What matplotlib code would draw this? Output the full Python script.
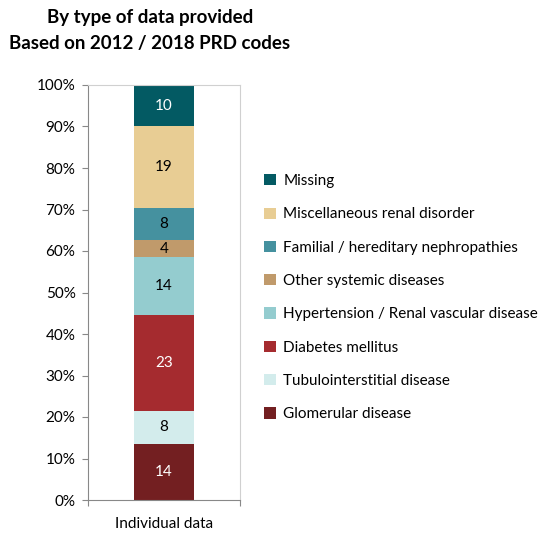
import matplotlib
matplotlib.use('Agg')
import matplotlib.pyplot as plt
from matplotlib.patches import Patch

plt.rcParams['font.family'] = ['Lato', 'DejaVu Sans']

# 데이터 (아래에서 위로)
categories = ['Glomerular disease', 'Tubulointerstitial disease', 'Diabetes mellitus',
              'Hypertension / Renal vascular disease', 'Other systemic diseases',
              'Familial / hereditary nephropathies', 'Miscellaneous renal disorder', 'Missing']
shares = [13.5, 8.0, 23.1, 14.0, 4.0, 7.8, 19.6, 10.0]
labels = ['14', '8', '23', '14', '4', '8', '19', '10']
colors = ['#731f21', '#d3ecec', '#a52b2f', '#94cccf', '#c09a6b', '#45919f', '#e8cd94', '#035a63']
text_colors = ['white', 'black', 'white', 'black', 'black', 'black', 'black', 'white']
group = 'Individual data'

fig = plt.figure(figsize=(5.45, 5.39), dpi=100)
ax = fig.add_axes([88 / 545, 1 - 500 / 539, 152 / 545, 415 / 539])

bottom = 0
for v, c, lab, tc in zip(shares, colors, labels, text_colors):
    ax.bar(0, v, width=0.4, bottom=bottom, color=c)
    ax.text(0, bottom + v / 2, lab, ha='center', va='center', color=tc, fontsize=11)
    bottom += v

ax.set_xlim(-0.5, 0.5)
ax.set_ylim(0, 100)
ax.set_yticks(range(0, 101, 10))
ax.set_yticklabels([f'{t}%' for t in range(0, 101, 10)], fontsize=11)
ax.set_xticks([-0.5, 0.5])
ax.set_xticklabels(['', ''])
ax.tick_params(axis='x', length=4, color='#888888')
ax.tick_params(axis='y', length=4, color='#888888', pad=5)
ax.text(0, -4, group, ha='center', va='top', fontsize=11, transform=ax.transData)

for s in ['top', 'right']:
    ax.spines[s].set_color('#d0d0d0')
ax.spines['left'].set_color('#888888')
ax.spines['bottom'].set_color('#888888')

handles = [Patch(facecolor=c, label=n) for c, n in zip(colors, categories)]
leg = fig.legend(handles=handles[::-1], loc='upper left', bbox_to_anchor=(258 / 545, 1 - 168 / 539),
                 frameon=False, fontsize=11, handlelength=0.75, handleheight=0.75,
                 handletextpad=0.5, labelspacing=1.265, borderaxespad=0)

fig.text(150 / 545, 1 - 17 / 539, 'By type of data provided', ha='center', va='center',
         fontsize=13.5, fontweight='bold')
fig.text(150 / 545, 1 - 44 / 539, 'Based on 2012 / 2018 PRD codes', ha='center', va='center',
         fontsize=13.5, fontweight='bold')

fig.savefig('out.png', dpi=100)
